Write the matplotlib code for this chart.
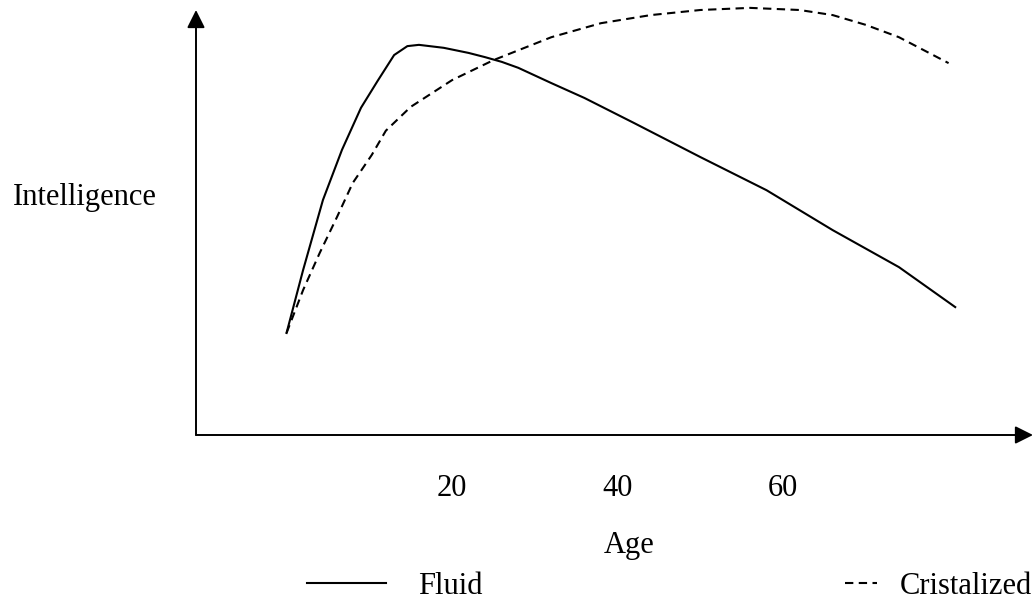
import matplotlib
matplotlib.use("Agg")
import matplotlib.pyplot as plt

plt.rcParams['font.family'] = ['Liberation Serif', 'DejaVu Serif']

# values (age in years, intelligence on a 0-100 scale)
fluid_age = [0, 2, 4.4, 6.7, 9, 11, 13, 14.6, 16, 19, 22, 24, 26, 28, 32, 36, 42, 50, 58, 66, 74, 80.8]
fluid_iq = [24, 38.8, 55.3, 67.1, 77, 83.3, 89.4, 91.5, 91.8, 91.1, 89.9, 88.9, 87.8, 86.4, 82.8,
            79.3, 73.4, 65.4, 57.6, 48.2, 39.5, 30.1]

cryst_age = [0, 2, 4, 6.1, 8, 10.3, 12, 15, 20, 25, 32, 38, 44, 50, 56, 62, 66, 70, 74, 80]
cryst_iq = [24, 34.1, 42.8, 51.3, 59.3, 65.9, 71.6, 77.2, 83.5, 88.2, 93.6, 96.9, 98.8, 100,
            100.5, 100, 98.8, 96.5, 93.6, 87.5]

ticks = [20, 40, 60]
tick_labels = ["20", "40", "60"]

FS = 22
W, H = 1033, 600
fig = plt.figure(figsize=(W / 100, H / 100), dpi=100)
ax = fig.add_axes([196 / W, (H - 435) / H, (W - 196) / W, (435 - 10) / H])
ax.set_xlim(-10.94, 90.2)
ax.set_ylim(0, 100)

for s in ax.spines.values():
    s.set_visible(False)

# axes with arrow heads
arrow = dict(arrowstyle='-|>', lw=1.4, color='black', mutation_scale=27, shrinkA=0, shrinkB=0)
ax.annotate('', xy=(1, 0), xytext=(0, 0), xycoords='axes fraction', arrowprops=arrow, annotation_clip=False)
ax.annotate('', xy=(0, 1), xytext=(0, 0), xycoords='axes fraction', arrowprops=arrow, annotation_clip=False)

l1, = ax.plot(fluid_age, fluid_iq, color='black', lw=1.5, clip_on=False)
l2, = ax.plot(cryst_age, cryst_iq, color='black', lw=1.5, ls=(0, (4, 2.6)), clip_on=False)

ax.set_xticks(ticks)
ax.set_xticklabels(tick_labels, fontsize=FS)
ax.tick_params(axis='x', length=0, pad=28)
ax.set_yticks([])

ax.set_xlabel("Age", fontsize=FS, va='center')
ax.xaxis.set_label_coords((629 - 196) / 837, -(546 - 435) / 425)
ax.set_ylabel("Intelligence", fontsize=FS, rotation=0, ha='left', va='center')
ax.yaxis.set_label_coords((13 - 196) / 837, (435 - 197) / 425)

leg1 = ax.legend([l1], ["Fluid"], loc='center left', bbox_to_anchor=(307 / W, 1 - 586 / H),
                 bbox_transform=fig.transFigure, frameon=False, fontsize=FS, borderpad=0,
                 borderaxespad=0, handlelength=2.6, handletextpad=1.05)
ax.add_artist(leg1)
ax.legend([l2], ["Cristalized"], loc='center left', bbox_to_anchor=(845 / W, 1 - 586 / H),
          bbox_transform=fig.transFigure, frameon=False, fontsize=FS, borderpad=0,
          borderaxespad=0, handlelength=1.05, handletextpad=0.75)

fig.savefig("out.png", dpi=100)
